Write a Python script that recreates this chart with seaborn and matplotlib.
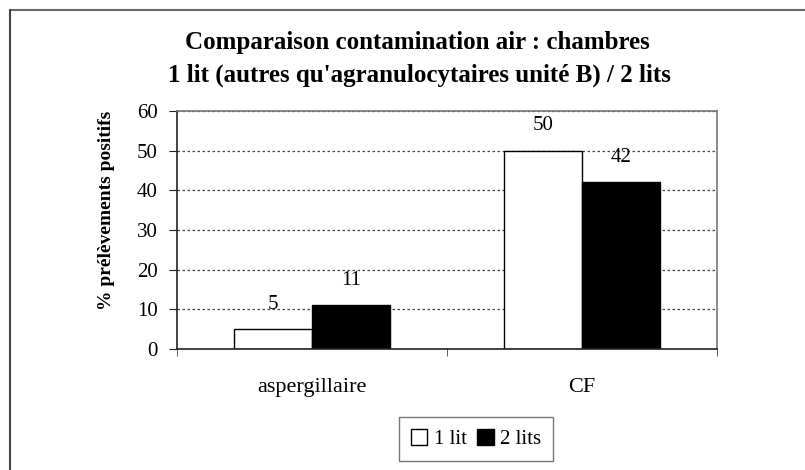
import matplotlib
matplotlib.use("Agg")
import matplotlib.pyplot as plt
from matplotlib.lines import Line2D
import seaborn as sns
import pandas as pd

categories = ["aspergillaire", "CF"]
series_names = ["1 lit", "2 lits"]
values_1lit = [5, 50]
values_2lits = [11, 42]
yticks = [0, 10, 20, 30, 40, 50, 60]
title_lines = ["Comparaison contamination air : chambres",
               "1 lit (autres qu'agranulocytaires unité B) / 2 lits"]
ylabel = "% prélèvements positifs"

df = pd.DataFrame({
    "cat": categories * 2,
    "val": values_1lit + values_2lits,
    "series": [series_names[0]] * len(categories) + [series_names[1]] * len(categories),
})

sns.set_style("white")
plt.rcParams["font.family"] = ["Liberation Serif", "DejaVu Serif"]
plt.rcParams["text.color"] = "black"
plt.rcParams["axes.labelcolor"] = "black"
plt.rcParams["xtick.color"] = "black"
plt.rcParams["ytick.color"] = "black"

fig = plt.figure(figsize=(8.05, 4.70), dpi=100)
ax = fig.add_axes([177/805, 1-349/470, (717-177)/805, (349-111)/470])

sns.barplot(data=df, x="cat", y="val", hue="series", palette=["white", "black"],
            edgecolor="black", linewidth=1.0, width=0.578, gap=0, ax=ax,
            saturation=1, legend=True)

for c in ax.containers:
    ax.bar_label(c, padding=11, fontsize=15, color="black")

ax.set_ylim(0, 60)
ax.set_xlim(-0.5, 1.5)
ax.set_yticks(yticks)
ax.set_yticklabels([str(v) for v in yticks], fontsize=15)
ax.set_xticks(range(len(categories)))
ax.set_xticklabels(categories, fontsize=16)
ax.tick_params(axis="x", which="major", length=0, pad=21)
ax.set_xticks([-0.5, 0.5, 1.5], minor=True)
ax.tick_params(axis="x", which="minor", length=5, direction="out", color="#444", bottom=True)
ax.tick_params(axis="y", length=6, direction="out", color="#222", left=True, pad=8)
ax.set_xlabel("")
ax.set_ylabel(ylabel, fontsize=14, fontweight="bold", color="black")
ax.yaxis.set_label_coords((115-177)/540, (349-210)/238)

ax.yaxis.grid(True, linestyle=(0, (2, 2)), color="#444", linewidth=0.9)
ax.set_axisbelow(True)
for s in ["top", "right"]:
    ax.spines[s].set_color("#777")
    ax.spines[s].set_linewidth(1.2)
ax.spines["left"].set_color("#222")
ax.spines["bottom"].set_color("#222")
ax.spines["left"].set_linewidth(1.2)
ax.spines["bottom"].set_linewidth(1.2)

fig.text(417/805, 1-43/470, title_lines[0], ha="center", va="center", fontsize=18, fontweight="bold", color="black")
fig.text(419/805, 1-75/470, title_lines[1], ha="center", va="center", fontsize=18, fontweight="bold", color="black")

handles, labels = ax.get_legend_handles_labels()
ax.legend(handles, labels, loc="center", bbox_to_anchor=(476/805, 1-439/470),
          bbox_transform=fig.transFigure, ncol=2, fontsize=15, frameon=True,
          fancybox=False, edgecolor="#555", handlelength=0.8, handleheight=0.8,
          handletextpad=0.3, columnspacing=0.5, borderpad=0.55, borderaxespad=0)
ax.get_legend().get_frame().set_linewidth(1.0)

fig.add_artist(Line2D([10/805, 1], [1-10/470, 1-10/470], color="#666", lw=1.5))
fig.add_artist(Line2D([10/805, 10/805], [0, 1-10/470], color="#444", lw=1.5))

fig.savefig("out.png", dpi=100, facecolor="white")
